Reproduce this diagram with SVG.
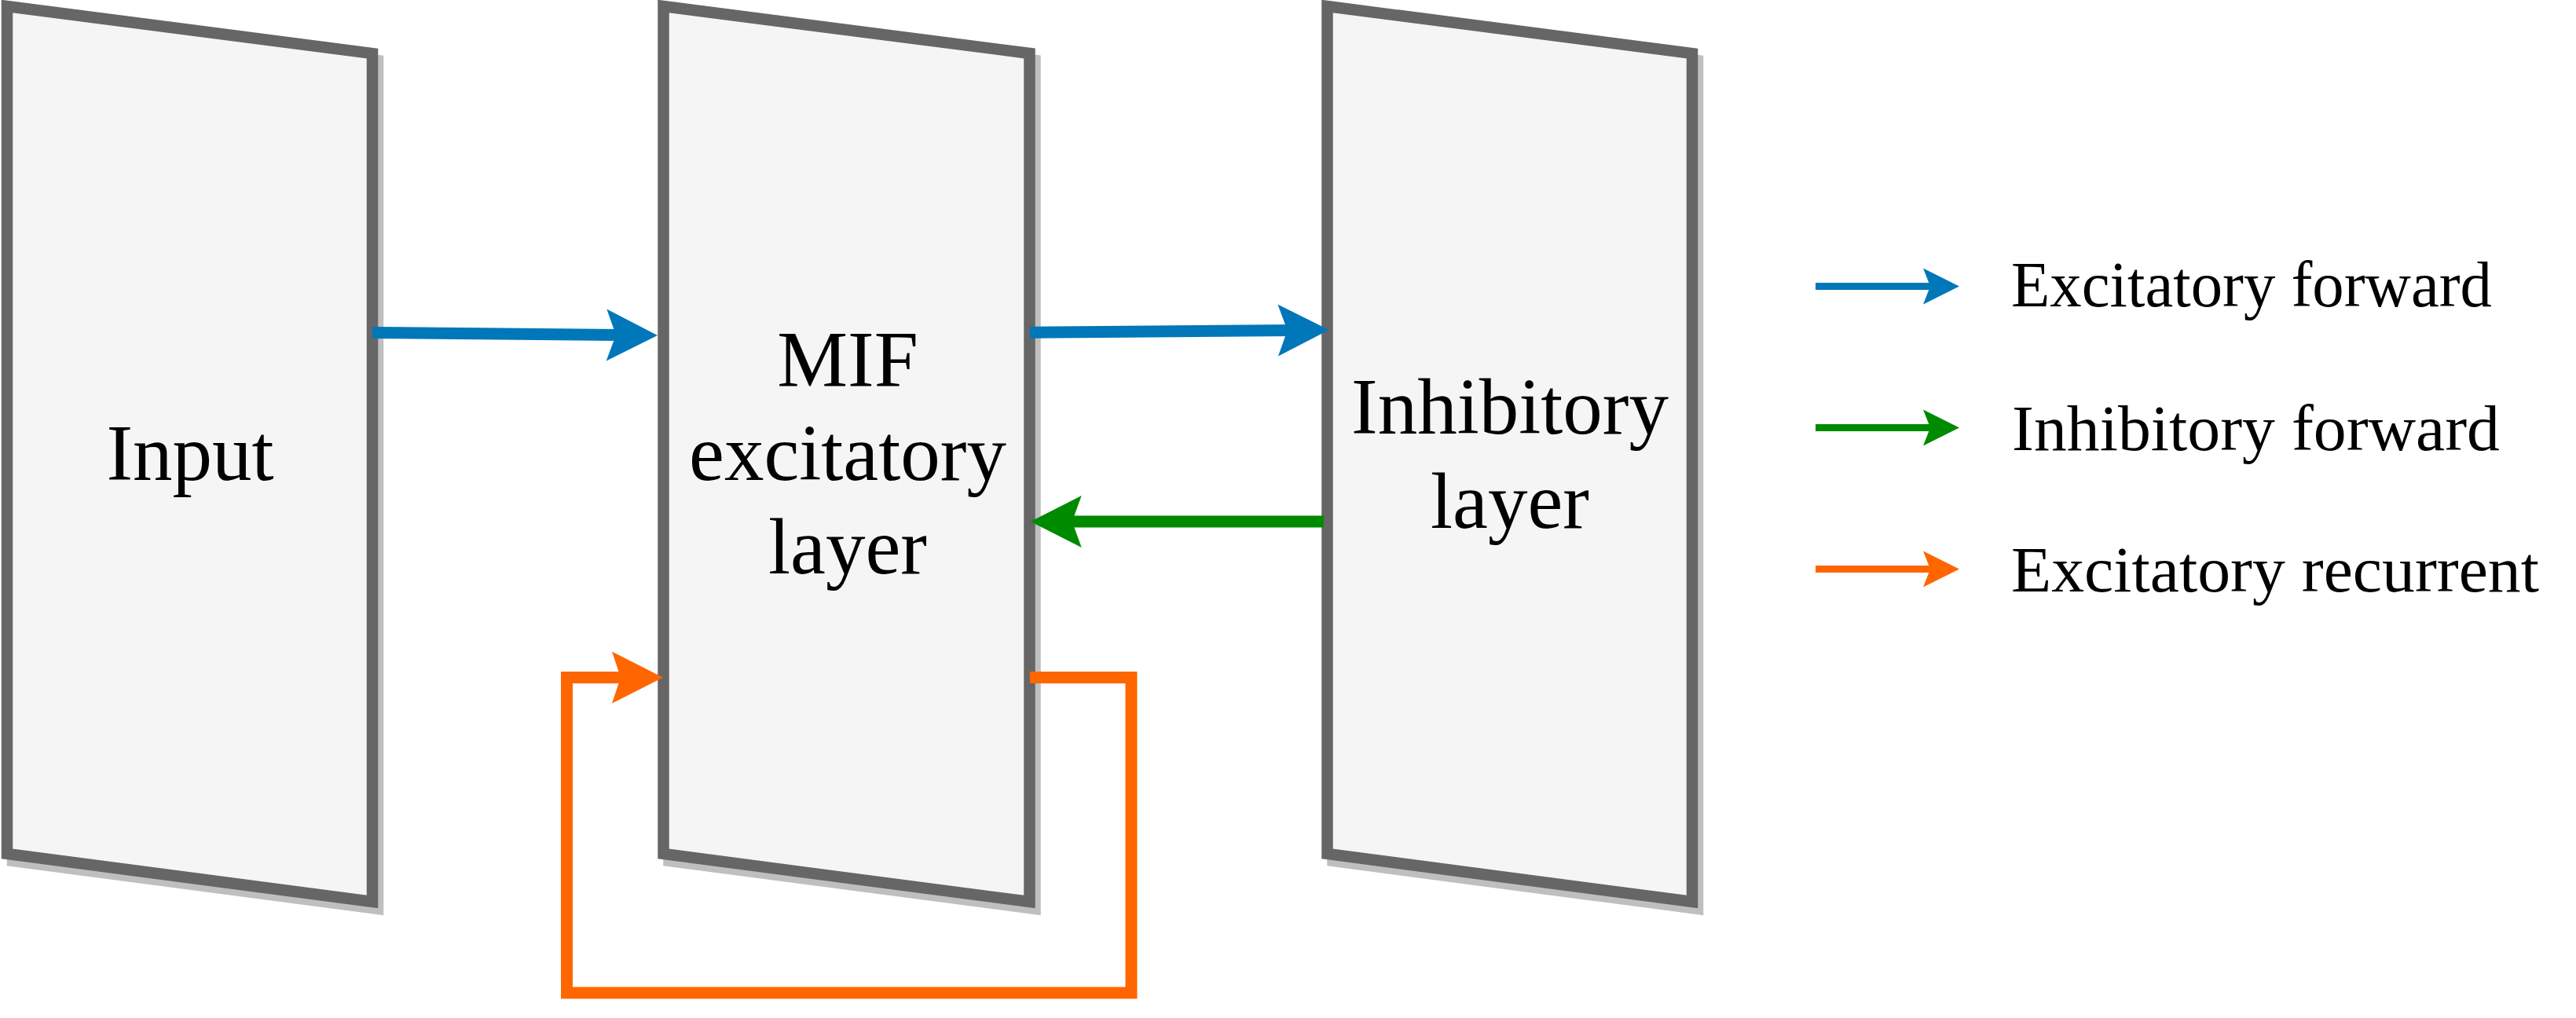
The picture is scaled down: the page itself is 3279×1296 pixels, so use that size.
<svg xmlns="http://www.w3.org/2000/svg" width="3279" height="1296" viewBox="0 0 3279 1296">
<style>
.layer{fill:#f5f5f5;stroke:#666666;stroke-width:14.5;stroke-linejoin:miter}
.shadow{fill:#bfbfbf;stroke:#bfbfbf;stroke-width:14.5}
.lbl{font-family:"Liberation Serif","Times New Roman",serif;font-size:101px;fill:#000;text-anchor:middle}
.leg{font-family:"Liberation Serif","Times New Roman",serif;font-size:82px;fill:#000}
.e{fill:none;stroke-width:15;stroke-linecap:butt;stroke-linejoin:miter}
.le{fill:none;stroke-width:9;stroke-linecap:butt}
.blue{stroke:#0077B8}
.green{stroke:#008A00}
.orange{stroke:#FF6600}
</style>
<defs>
<marker id="hb" markerUnits="userSpaceOnUse" viewBox="-2 -36 70 72" markerWidth="70" markerHeight="72" refX="20" refY="0" orient="auto"><path d="M0,-33 L65,0 L0,33 L12,0 Z" fill="#0077B8"/></marker>
<marker id="hg" markerUnits="userSpaceOnUse" viewBox="-2 -36 70 72" markerWidth="70" markerHeight="72" refX="20" refY="0" orient="auto"><path d="M0,-33 L65,0 L0,33 L12,0 Z" fill="#008A00"/></marker>
<marker id="ho" markerUnits="userSpaceOnUse" viewBox="-2 -36 70 72" markerWidth="70" markerHeight="72" refX="20" refY="0" orient="auto"><path d="M0,-33 L65,0 L0,33 L11,0 Z" fill="#FF6600"/></marker>
<marker id="lb" markerUnits="userSpaceOnUse" viewBox="-2 -26 52 52" markerWidth="52" markerHeight="52" refX="14" refY="0" orient="auto"><path d="M0,-23 L46,0 L0,23 L9,0 Z" fill="#0077B8"/></marker>
<marker id="lg" markerUnits="userSpaceOnUse" viewBox="-2 -26 52 52" markerWidth="52" markerHeight="52" refX="14" refY="0" orient="auto"><path d="M0,-23 L46,0 L0,23 L9,0 Z" fill="#008A00"/></marker>
<marker id="lo" markerUnits="userSpaceOnUse" viewBox="-2 -26 52 52" markerWidth="52" markerHeight="52" refX="14" refY="0" orient="auto"><path d="M0,-23 L46,0 L0,23 L9,0 Z" fill="#FF6600"/></marker>
</defs>
<rect width="3279" height="1296" fill="#ffffff"/>
<g id="input">
<polygon class="shadow" transform="translate(7,9)" points="9,8 474,68 474,1148 9,1087"/>
<polygon class="layer" points="9,8 474,68 474,1148 9,1087"/>
<text class="lbl" x="242" y="611">Input</text>
</g>
<g id="mif">
<polygon class="shadow" transform="translate(7,9)" points="844.5,8 1310.5,68 1310.5,1148 844.5,1087"/>
<polygon class="layer" points="844.5,8 1310.5,68 1310.5,1148 844.5,1087"/>
<text class="lbl" x="1079" y="491.5">MIF</text>
<text class="lbl" x="1079" y="610.5">excitatory</text>
<text class="lbl" x="1079" y="730">layer</text>
</g>
<g id="inhibitory">
<polygon class="shadow" transform="translate(7,9)" points="1689.5,8 2154,68 2154,1148 1689.5,1087"/>
<polygon class="layer" points="1689.5,8 2154,68 2154,1148 1689.5,1087"/>
<text class="lbl" x="1922" y="551.5">Inhibitory</text>
<text class="lbl" x="1922" y="671.5">layer</text>
</g>
<g id="connectors">
<path class="e blue" d="M474,423.5 L792,426.6" marker-end="url(#hb)"/>
<path class="e blue" d="M1311,423.3 L1646.7,420.4" marker-end="url(#hb)"/>
<path class="e green" d="M1685,664 L1356.7,664" marker-end="url(#hg)"/>
<path class="e orange" d="M1311,862.5 L1440,862.5 L1440,1264 L721.5,1264 L721.5,862.5 L799,862.5" marker-end="url(#ho)"/>
</g>
<g id="legend">
<path class="le blue" d="M2311,364.5 L2462,364.5" marker-end="url(#lb)"/>
<path class="le green" d="M2311,544.5 L2462,544.5" marker-end="url(#lg)"/>
<path class="le orange" d="M2311,724.5 L2462,724.5" marker-end="url(#lo)"/>
<text class="leg" x="2560" y="390" textLength="612" lengthAdjust="spacingAndGlyphs">Excitatory forward</text>
<text class="leg" x="2561" y="573" textLength="621" lengthAdjust="spacingAndGlyphs">Inhibitory forward</text>
<text class="leg" x="2560" y="753" textLength="672" lengthAdjust="spacingAndGlyphs">Excitatory recurrent</text>
</g>
</svg>
